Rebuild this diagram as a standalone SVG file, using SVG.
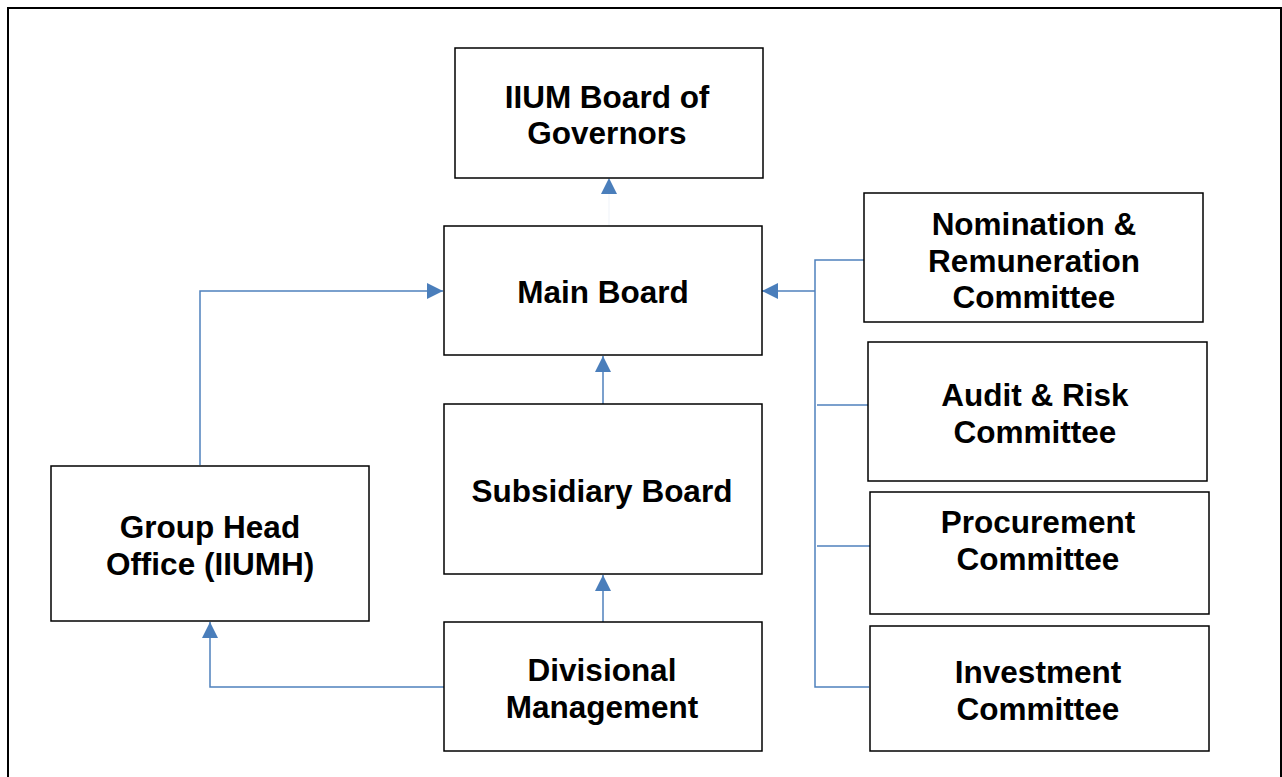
<svg xmlns="http://www.w3.org/2000/svg" width="1282" height="777" viewBox="0 0 1282 777">
  <style>
    .box { fill: #ffffff; stroke: #000000; stroke-width: 1.5; }
    .lbl { font-family: "Liberation Sans", Arial, sans-serif; font-weight: bold; font-size: 31.5px; fill: #000000; text-anchor: middle; }
    .wire { fill: none; stroke: #4f81bd; stroke-width: 1.5; }
    .arrow { marker-end: url(#head); }
    .faint { stroke-width: 0.3; stroke-opacity: 0.3; }
  </style>
  <defs>
    <marker id="head" viewBox="0 0 16 16" refX="16" refY="8" markerWidth="16" markerHeight="16" markerUnits="userSpaceOnUse" orient="auto">
      <path d="M0,0 L16,8 L0,16 Z" fill="#4a7ebb"/>
    </marker>
  </defs>

  <rect x="0" y="0" width="1282" height="777" fill="#ffffff"/>
  <!-- outer frame -->
  <rect x="8" y="8" width="1273" height="790" fill="none" stroke="#000000" stroke-width="2"/>

  <g id="connectors">
    <!-- main board to governors (hairline stem) -->
    <path class="wire arrow faint" d="M609,226 L609,178"/>
    <!-- subsidiary to main -->
    <path class="wire arrow" d="M603,404 L603,356"/>
    <!-- divisional to subsidiary -->
    <path class="wire arrow" d="M603,622 L603,575"/>
    <!-- divisional to group head office -->
    <path class="wire arrow" d="M444,687 L210,687 L210,622"/>
    <!-- group head office to main -->
    <path class="wire arrow" d="M200,465 L200,291 L443,291"/>
    <!-- committees bus -->
    <path class="wire" d="M866,260 L815,260 L815,687 L869,687"/>
    <path class="wire" d="M817,405 L868,405"/>
    <path class="wire" d="M817,546 L870,546"/>
    <path class="wire arrow" d="M815,291 L762,291"/>
  </g>

  <g id="node-governors">
    <rect class="box" x="455" y="48" width="308" height="130"/>
    <text class="lbl" x="607" y="108">IIUM Board of</text>
    <text class="lbl" x="607" y="144">Governors</text>
  </g>

  <g id="node-main-board">
    <rect class="box" x="444" y="226" width="318" height="129"/>
    <text class="lbl" x="603" y="303">Main Board</text>
  </g>

  <g id="node-subsidiary-board">
    <rect class="box" x="444" y="404" width="318" height="170"/>
    <text class="lbl" x="602" y="502">Subsidiary Board</text>
  </g>

  <g id="node-divisional">
    <rect class="box" x="444" y="622" width="318" height="129"/>
    <text class="lbl" x="602" y="681">Divisional</text>
    <text class="lbl" x="602" y="718">Management</text>
  </g>

  <g id="node-group-head">
    <rect class="box" x="51" y="466" width="318" height="155"/>
    <text class="lbl" x="210" y="538">Group Head</text>
    <text class="lbl" x="210" y="575">Office (IIUMH)</text>
  </g>

  <g id="node-nomination">
    <rect class="box" x="864" y="193" width="339" height="129"/>
    <text class="lbl" x="1034" y="235">Nomination &amp;</text>
    <text class="lbl" x="1034" y="272">Remuneration</text>
    <text class="lbl" x="1034" y="308">Committee</text>
  </g>

  <g id="node-audit">
    <rect class="box" x="868" y="342" width="339" height="139"/>
    <text class="lbl" x="1035" y="406">Audit &amp; Risk</text>
    <text class="lbl" x="1035" y="443">Committee</text>
  </g>

  <g id="node-procurement">
    <rect class="box" x="870" y="492" width="339" height="122"/>
    <text class="lbl" x="1038" y="533">Procurement</text>
    <text class="lbl" x="1038" y="570">Committee</text>
  </g>

  <g id="node-investment">
    <rect class="box" x="870" y="626" width="339" height="125"/>
    <text class="lbl" x="1038" y="683">Investment</text>
    <text class="lbl" x="1038" y="720">Committee</text>
  </g>
</svg>
